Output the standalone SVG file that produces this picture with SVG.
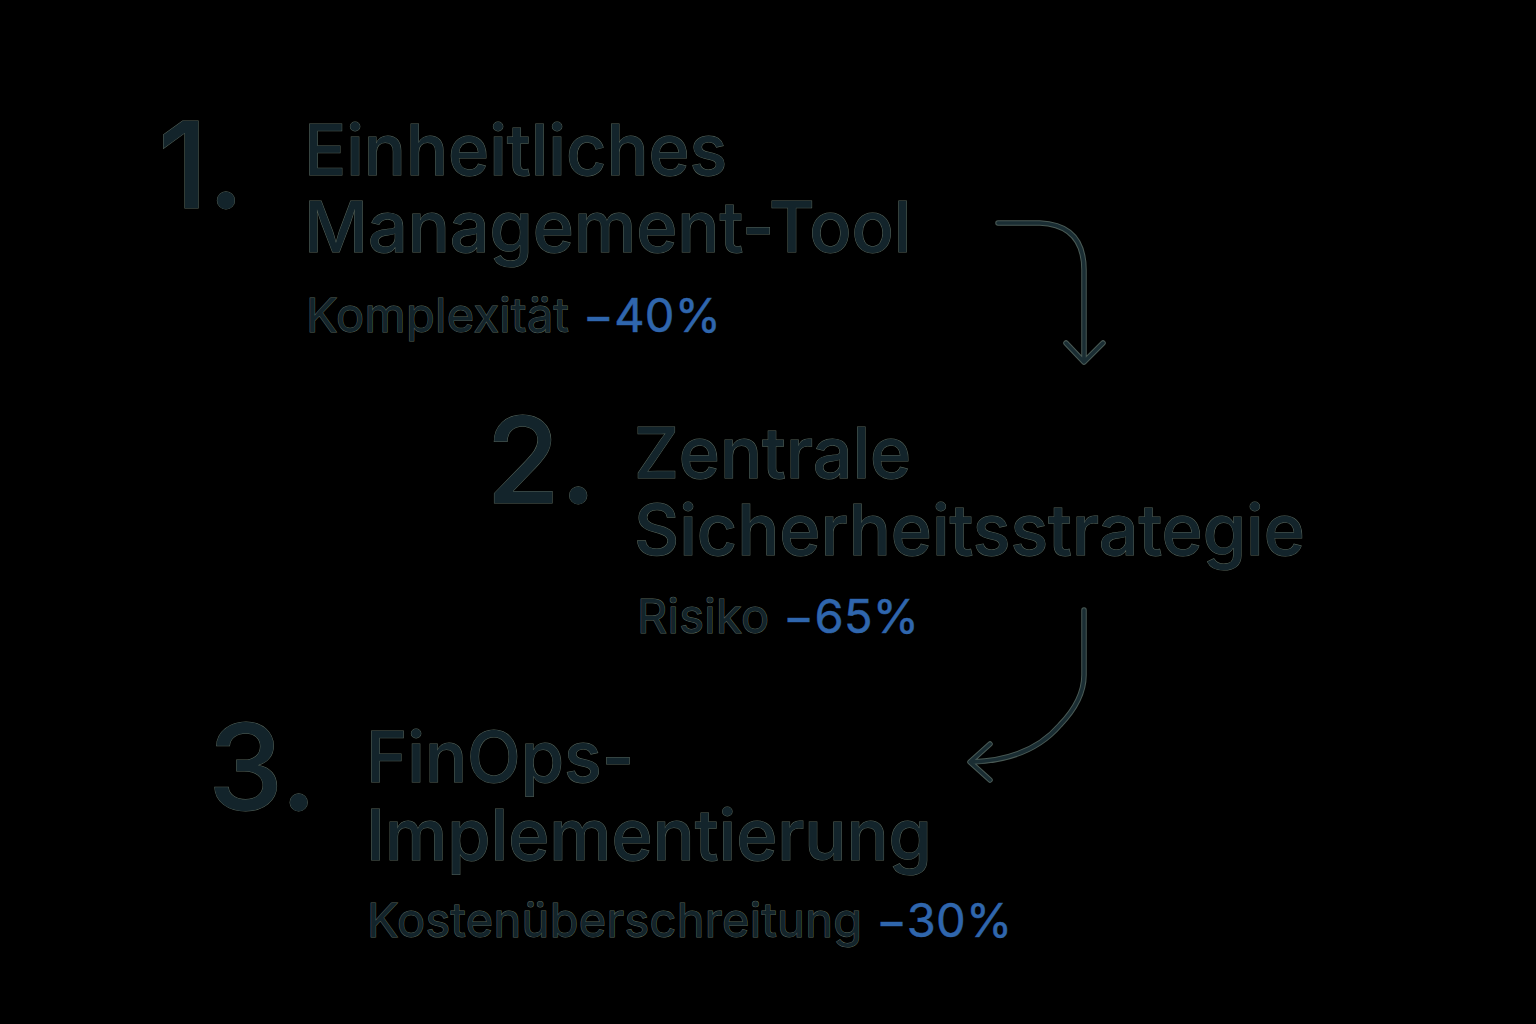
<svg xmlns="http://www.w3.org/2000/svg" width="1536" height="1024" viewBox="0 0 1536 1024">
<style>
.t{font-family:Inter,"Noto Sans","Liberation Sans",sans-serif;font-weight:500;fill:#13242b;stroke:#56645a;stroke-width:1;paint-order:stroke}
.num{font-size:120px}
.h{font-size:70px}
.s{font-size:47px;font-weight:400;letter-spacing:0.3px}
.b{fill:#2f66ad;stroke:#2a5590;stroke-width:0.6}
.arr{fill:none;stroke-linecap:round;stroke-linejoin:round}
.ao{stroke:#4a5a55;stroke-width:5.5}
.ai{stroke:#1a2d33;stroke-width:3.5}
</style>
<rect width="1536" height="1024" fill="#000"/>
<g id="step1">
<text class="t num" x="158" y="208">1.</text>
<text class="t h" x="304" y="175">Einheitliches</text>
<text class="t h" x="304" y="252">Management-Tool</text>
<text class="t s" x="306" y="332">Komplexität <tspan class="b">−40%</tspan></text>
</g>
<g id="step2">
<text class="t num" x="486" y="503">2.</text>
<text class="t h" x="634" y="478">Zentrale</text>
<text class="t h" x="634" y="555">Sicherheitsstrategie</text>
<text class="t s" x="637" y="633">Risiko <tspan class="b">−65%</tspan></text>
</g>
<g id="step3">
<text class="t num" x="208" y="810">3.</text>
<text class="t h" x="366" y="782">FinOps-</text>
<text class="t h" x="366" y="860">Implementierung</text>
<text class="t s" x="367" y="937">Kostenüberschreitung <tspan class="b">−30%</tspan></text>
</g>
<g id="connectors">
<g class="arr ao">
<path d="M998 223 H1040 Q1084 225 1084 270 V362 M1066 343 L1084 362 L1103 343"/>
<path d="M1084 610 V675 Q1084 700 1060 725 Q1030 760 972 762 M990 744 L970 762 L990 780"/>
</g>
<g class="arr ai">
<path d="M998 223 H1040 Q1084 225 1084 270 V362 M1066 343 L1084 362 L1103 343"/>
<path d="M1084 610 V675 Q1084 700 1060 725 Q1030 760 972 762 M990 744 L970 762 L990 780"/>
</g>
</g>
</svg>
